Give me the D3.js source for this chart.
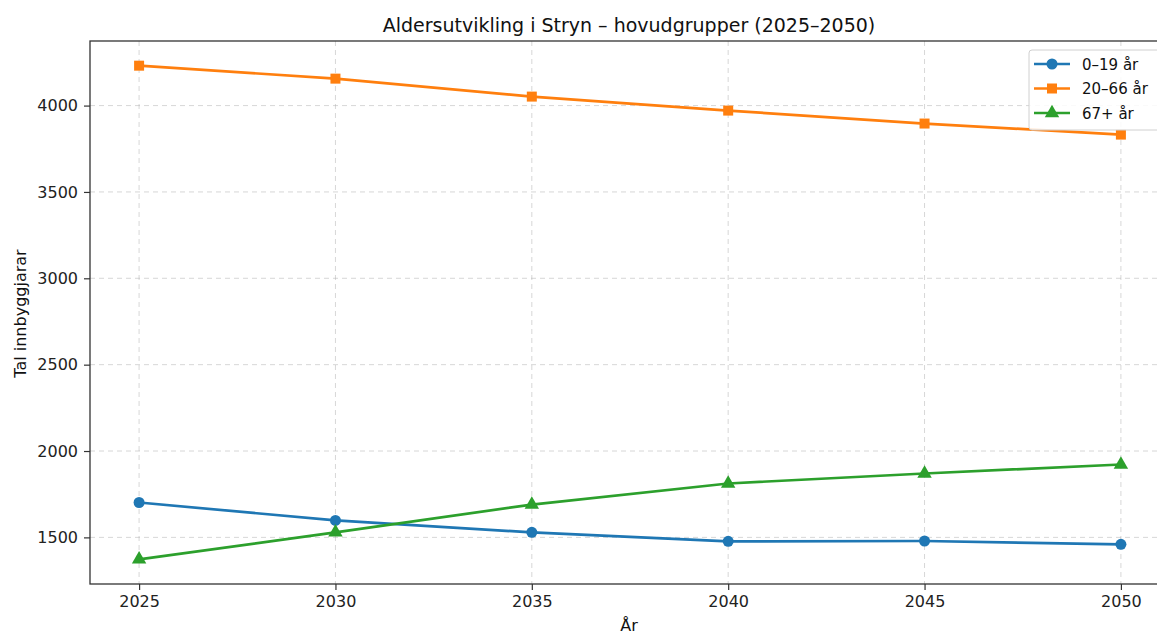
<!DOCTYPE html>
<html lang="nn">
<head>
<meta charset="UTF-8">
<title>Aldersutvikling i Stryn</title>
<style>
  body { margin: 0; background: #fff; font-family: 'DejaVu Sans', sans-serif; }
  svg { display: block; }
</style>
</head>
<body>
<div id="chart"></div>
<script src="https://cdn.jsdelivr.net/npm/d3@7/dist/d3.min.js"></script>
<script>
// data
var years   = [2025, 2030, 2035, 2040, 2045, 2050];
var young   = [1702, 1598, 1529, 1477, 1479, 1460];   // 0–19 år
var working = [4231, 4156, 4052, 3971, 3896, 3832];   // 20–66 år
var elderly = [1373, 1529, 1690, 1812, 1870, 1922];   // 67+ år
var yTicks  = [1500, 2000, 2500, 3000, 3500, 4000];

var series = [
  { name: '0–19 år',  values: young,   color: '#1f77b4', symbol: d3.symbolCircle,   size: 95 },
  { name: '20–66 år', values: working, color: '#ff7f0e', symbol: d3.symbolSquare,   size: 100 },
  { name: '67+ år',   values: elderly, color: '#2ca02c', symbol: d3.symbolTriangle, size: 90 }
];

var W = 1157, H = 635;
var plotL = 90, plotT = 41, plotR = 1170, plotB = 584;

var svg = d3.select('#chart').append('svg').attr('width', W).attr('height', H);

// matplotlib style 5% margins
var xPad = (d3.max(years) - d3.min(years)) * 0.05;
var x = d3.scaleLinear().domain([d3.min(years) - xPad, d3.max(years) + xPad]).range([plotL, plotR]);
var all = young.concat(working, elderly);
var yPad = (d3.max(all) - d3.min(all)) * 0.05;
var y = d3.scaleLinear().domain([d3.min(all) - yPad, d3.max(all) + yPad]).range([plotB, plotT]);

// grid
var grid = svg.append('g').attr('stroke', '#b0b0b0').attr('stroke-opacity', 0.5)
  .attr('stroke-dasharray', '5,4').attr('stroke-width', 1);
grid.selectAll('.gx').data(years).join('line')
  .attr('x1', d => x(d)).attr('x2', d => x(d)).attr('y1', plotT).attr('y2', plotB);
grid.selectAll('.gy').data(yTicks).join('line')
  .attr('x1', plotL).attr('x2', plotR).attr('y1', d => y(d)).attr('y2', d => y(d));

// axes
var xAxis = svg.append('g').attr('transform', 'translate(0,' + plotB + ')')
  .call(d3.axisBottom(x).tickValues(years).tickFormat(d3.format('d')).tickSize(6).tickPadding(6));
var yAxis = svg.append('g').attr('transform', 'translate(' + plotL + ',0)')
  .call(d3.axisLeft(y).tickValues(yTicks).tickFormat(d3.format('d')).tickSize(6).tickPadding(6));
[xAxis, yAxis].forEach(function (a) {
  a.attr('font-family', 'DejaVu Sans, sans-serif').attr('font-size', 16);
  a.select('.domain').remove();
  a.selectAll('text').attr('fill', '#222');
  a.selectAll('line').attr('stroke', '#333').attr('stroke-width', 1.2);
});

// frame
svg.append('rect').attr('x', plotL).attr('y', plotT).attr('width', plotR - plotL).attr('height', plotB - plotT)
  .attr('fill', 'none').attr('stroke', '#333').attr('stroke-width', 1.3);

// lines and markers
var line = d3.line().x((d, i) => x(years[i])).y(d => y(d));
series.forEach(function (s) {
  svg.append('path').datum(s.values).attr('d', line)
    .attr('fill', 'none').attr('stroke', s.color).attr('stroke-width', 2.7).attr('stroke-linejoin', 'round');
  svg.append('g').selectAll('path').data(s.values).join('path')
    .attr('d', d3.symbol().type(s.symbol).size(s.size))
    .attr('transform', (d, i) => 'translate(' + x(years[i]) + ',' + y(d) + ')')
    .attr('fill', s.color);
});

// titles
var midX = (plotL + 1166) / 2 + 1;
svg.append('text').attr('x', midX).attr('y', 32).attr('text-anchor', 'middle')
  .attr('font-size', 19).attr('fill', '#111').text('Aldersutvikling i Stryn – hovudgrupper (2025–2050)');
svg.append('text').attr('x', midX).attr('y', 631).attr('text-anchor', 'middle')
  .attr('font-size', 16).attr('fill', '#111').text('År');
svg.append('text').attr('transform', 'translate(26,' + ((plotT + plotB) / 2 + 1) + ') rotate(-90)')
  .attr('text-anchor', 'middle').attr('font-size', 16).attr('fill', '#111').text('Tal innbyggjarar');

// legend
var lg = svg.append('g').attr('transform', 'translate(1029,50)');
lg.append('rect').attr('width', 140).attr('height', 80).attr('rx', 3)
  .attr('fill', '#fff').attr('fill-opacity', 0.85).attr('stroke', '#d0d0d0');
series.forEach(function (s, i) {
  var yy = 14 + i * 24.5;
  lg.append('line').attr('x1', 5).attr('x2', 41).attr('y1', yy).attr('y2', yy)
    .attr('stroke', s.color).attr('stroke-width', 2.7);
  lg.append('path').attr('d', d3.symbol().type(s.symbol).size(s.size))
    .attr('transform', 'translate(23,' + yy + ')').attr('fill', s.color);
  lg.append('text').attr('x', 53).attr('y', yy + 5.5).attr('font-size', 15).attr('fill', '#111').text(s.name);
});
</script>
</body>
</html>
